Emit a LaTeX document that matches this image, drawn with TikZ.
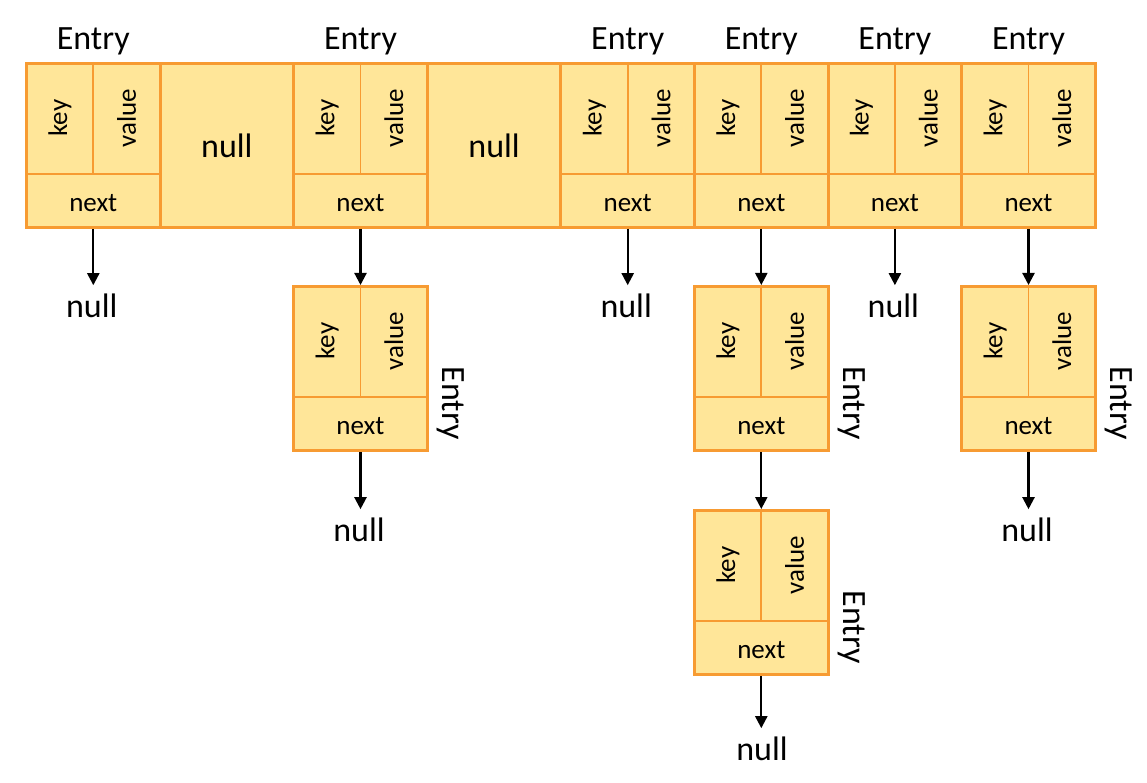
\documentclass[tikz,border=0pt]{standalone}
\usepackage{fontspec}
\setmainfont{Carlito}
\usetikzlibrary{arrows.meta}
\definecolor{boxfill}{HTML}{FFE699}
\definecolor{boxline}{HTML}{F79B32}
\tikzset{
  cellbox/.style={draw=boxline, fill=boxfill, line width=3pt, minimum width=133.6pt, minimum height=164pt, inner sep=0pt, anchor=north west},
  divline/.style={draw=boxline, line width=1.8pt},
  smalltxt/.style={font=\fontsize{27}{30}\selectfont, inner sep=0pt},
  bigtxt/.style={font=\fontsize{34}{38}\selectfont, inner sep=0pt},
  ptr/.style={-{Triangle[length=12pt,width=12pt]}, line width=2.2pt, black},
  ptrnull/.style={ptr, shorten >=8pt}
}
% #1 name, #2 x, #3 y (top-left)
\newcommand\mkentry[3]{%
  \node[cellbox] (#1) at (#2,#3) {};
  \draw[divline] ([yshift=-112pt]#1.north west) -- ([yshift=-112pt]#1.north east);
  \draw[divline] (#1.north) -- ([yshift=-112pt]#1.north);
  \node[smalltxt, rotate=90] (#1-key) at ([xshift=-33.4pt,yshift=-56pt]#1.north) {key};
  \node[smalltxt, rotate=90] (#1-val) at ([xshift=33.4pt,yshift=-56pt]#1.north) {value};
  \node[smalltxt] (#1-next) at ([yshift=26pt]#1.south) {next};
}
\newcommand\mknullcell[3]{%
  \node[cellbox] (#1) at (#2,#3) {};
  \node[bigtxt, anchor=base] (#1-txt) at ([yshift=-96pt]#1.north) {null};
}
\begin{document}
\begin{tikzpicture}[x=1pt,y=-1pt]
\useasboundingbox (0,0) rectangle (1147,783);
% top row
\mkentry{e0}{25}{62}
\mknullcell{n1}{158.6}{62}
\mkentry{e2}{292.2}{62}
\mknullcell{n3}{425.8}{62}
\mkentry{e4}{559.4}{62}
\mkentry{e5}{693}{62}
\mkentry{e6}{826.6}{62}
\mkentry{e7}{960.2}{62}
% top labels
\foreach \c in {e0,e2,e4,e5,e6,e7}{
  \node[bigtxt, anchor=base] (\c-lbl) at ([yshift=12pt]\c.north) {Entry};
}
% second row
\mkentry{r2a}{292.2}{285}
\mkentry{r2b}{693}{285}
\mkentry{r2c}{960.2}{285}
% third row
\mkentry{r3}{693}{509}
% side labels
\foreach \c in {r2a,r2b,r2c,r3}{
  \node[bigtxt, rotate=-90] (\c-lbl) at ([xshift=22pt,yshift=-118pt]\c.north east) {Entry};
}
% null targets
\node[bigtxt, anchor=base] (z0) at (91.8,317) {null};
\node[bigtxt, anchor=base] (z4) at (626.2,317) {null};
\node[bigtxt, anchor=base] (z6) at (893.4,317) {null};
\node[bigtxt, anchor=base] (z2a) at (359,541) {null};
\node[bigtxt, anchor=base] (z2c) at (1027,541) {null};
\node[bigtxt, anchor=base] (z3) at (762,760) {null};
% connectors
\draw[ptrnull] (e0.south) -- (e0.south |- z0.north);
\draw[ptr] (e2.south) -- (r2a.north);
\draw[ptrnull] (e4.south) -- (e4.south |- z4.north);
\draw[ptr] (e5.south) -- (r2b.north);
\draw[ptrnull] (e6.south) -- (e6.south |- z6.north);
\draw[ptr] (e7.south) -- (r2c.north);
\draw[ptrnull] (r2a.south) -- (r2a.south |- z2a.north);
\draw[ptr] (r2b.south) -- (r3.north);
\draw[ptrnull] (r2c.south) -- (r2c.south |- z2c.north);
\draw[ptrnull] (r3.south) -- (r3.south |- z3.north);
\end{tikzpicture}
\end{document}
